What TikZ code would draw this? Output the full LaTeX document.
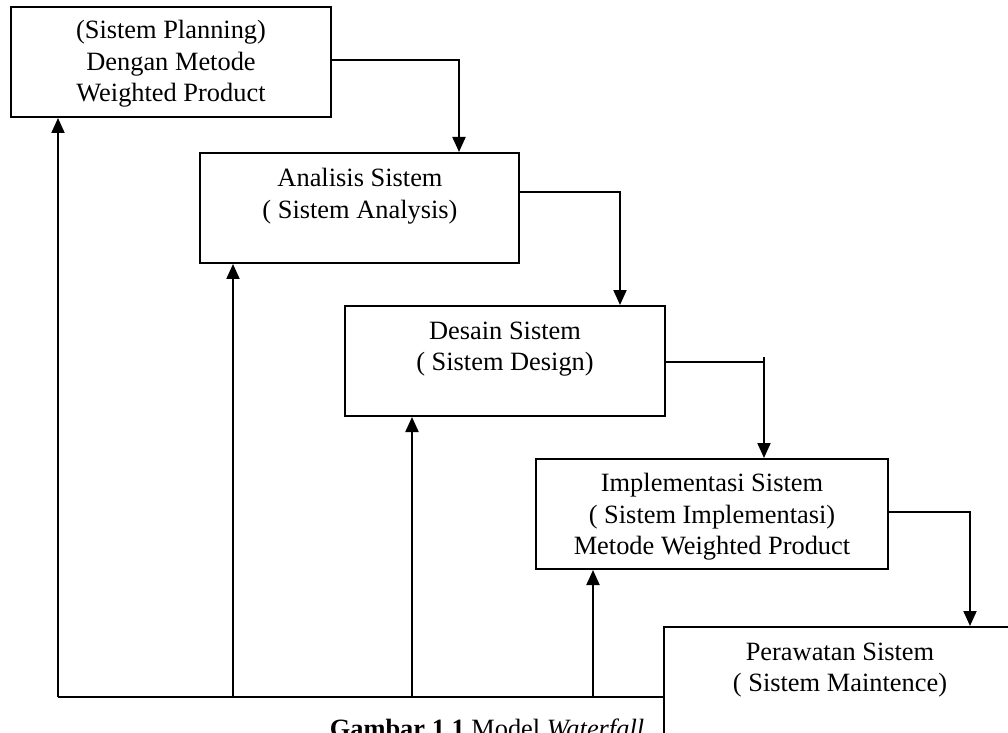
\documentclass[tikz,border=0pt]{standalone}
\usepackage{fontspec}
\setmainfont{Liberation Serif}
\usetikzlibrary{arrows.meta}
\begin{document}
\begin{tikzpicture}[x=0.5pt,y=-0.5pt,
  stagebox/.style={draw,line width=1pt,rectangle,inner sep=0pt},
  stagetext/.style={align=center,inner sep=0pt,font=\fontsize{13.2pt}{15.75pt}\selectfont},
  flow/.style={line width=1pt,-{Triangle[length=7.5pt,width=6.5pt]}},
  plain/.style={line width=1pt}]
\useasboundingbox (0,0) rectangle (1008,733);
\clip (0,0) rectangle (1008,733);
% boxes
\node[stagebox,minimum width=160pt,minimum height=55pt] (b1) at (171,62) {};
\node[stagebox,minimum width=159.5pt,minimum height=55pt] (b2) at (359.5,208) {};
\node[stagebox,minimum width=160pt,minimum height=55pt] (b3) at (505,361) {};
\node[stagebox,minimum width=176pt,minimum height=55pt] (b4) at (712,514) {};
\node[stagebox,minimum width=176pt,minimum height=86.5pt] (b5) at (840,713.5) {};
% texts
\node[stagetext] (t1) at (171,64) {(Sistem Planning)\\Dengan Metode\\Weighted Product};
\node[stagetext] (t2) at (360,196) {Analisis Sistem\\( Sistem Analysis)};
\node[stagetext] (t3) at (505,349) {Desain Sistem\\( Sistem Design)};
\node[stagetext] (t4) at (712,517) {Implementasi Sistem\\( Sistem Implementasi)\\Metode Weighted Product};
\node[stagetext] (t5) at (840,670) {Perawatan Sistem\\( Sistem Maintence)};
% forward arrows
\coordinate (c1) at (459,60);
\coordinate (c2) at (620,192);
\coordinate (c3) at (764,362);
\coordinate (c3t) at (764,357);
\coordinate (c4) at (970,512);
\draw[flow] (b1.east |- c1) -- (c1) -- (c1 |- b2.north);
\draw[flow] (b2.east |- c2) -- (c2) -- (c2 |- b3.north);
\draw[plain] (b3.east |- c3) -- (c3);
\draw[flow] (c3t) -- (c3t |- b4.north);
\draw[flow] (b4.east |- c4) -- (c4) -- (c4 |- b5.north);
% feedback
\coordinate (f1) at (58,697);
\coordinate (f2) at (233,697);
\coordinate (f3) at (412,697);
\coordinate (f4) at (593,697);
\draw[plain] (b5.west |- f1) -- (f1);
\draw[flow] (f1) -- (f1 |- b1.south);
\draw[flow] (f2) -- (f2 |- b2.south);
\draw[flow] (f3) -- (f3 |- b3.south);
\draw[flow] (f4) -- (f4 |- b4.south);
% caption
\node[anchor=base,inner sep=0pt,font=\fontsize{13.2pt}{15.75pt}\selectfont] (cap) at (487,737) {\textbf{Gambar 1.1} Model \textit{Waterfall}};
\end{tikzpicture}
\end{document}
